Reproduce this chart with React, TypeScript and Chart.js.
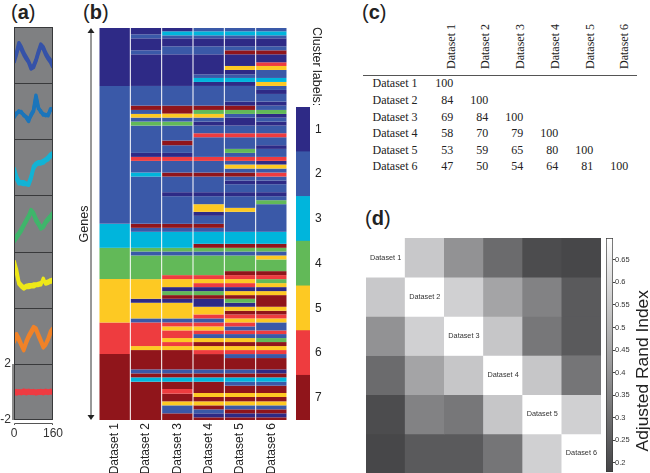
import React, { useEffect, useRef } from "react";
import { Chart, registerables } from "chart.js";
Chart.register(...registerables);
Chart.defaults.font.family = "'Liberation Sans', Arial, sans-serif";

// ---------- panel (a): cluster profiles ----------
const timePoints = [0, 10, 20, 30, 40, 50, 60, 70, 80, 90, 100, 110, 120, 130, 140, 150, 160];
const profileColors = ["#3552a8", "#1b75bb", "#12b3d5", "#3fb56b", "#eee818", "#f08228", "#ee3b42"];
const profile1 = [-0.3, 0.2, 0.9, 0.6, 0.2, -0.1, -0.4, -0.8, -0.7, -0.3, 0.3, 0.8, 0.6, 0.2, -0.1, -0.3, -0.6];
const profile1b = [-0.5, 0.05, 0.75, 0.4, 0.05, -0.25, -0.5, -0.95, -0.85, -0.4, 0.15, 0.65, 0.45, 0.05, -0.25, -0.5, -0.85];
const profile2 = [-0.3, -0.2, 0.05, -0.1, -0.2, -0.45, -0.7, -0.2, 0.1, 1.15, 0.3, -0.05, -0.15, -0.3, -0.2, 0.1, 0.25];
const profile2b = [-0.45, -0.1, -0.05, 0.0, -0.3, -0.35, -0.55, -0.3, 0.0, 1.0, 0.2, 0.05, -0.25, -0.2, -0.3, 0.2, 0.1];
const profile3 = [0, -0.6, -0.95, -1, -1, -1.1, -1.1, -0.6, 0.1, 0.3, 0.4, 0.4, 0.5, 0.6, 0.75, 0.95, 1.05];
const profile3b = [-0.3, -0.8, -1.15, -1.15, -1.2, -1.2, -1.25, -0.8, -0.1, 0.15, 0.25, 0.25, 0.3, 0.45, 0.55, 0.75, 0.9];
const profile4 = [-1.0, -0.8, -0.6, -0.3, 0, 0.3, 0.6, 1, 0.8, 0.4, 0.1, -0.2, -0.1, 0.2, 0.4, 0.6, 0.8];
const profile4b = [-1.25, -1.0, -0.75, -0.5, -0.15, 0.15, 0.45, 0.8, 0.65, 0.2, -0.05, -0.35, -0.25, 0.05, 0.25, 0.45, 0.6];
const profile5 = [1.4, 0.8, -0.1, -0.3, -0.45, -0.35, -0.3, -0.3, -0.25, -0.25, -0.2, -0.15, -0.05, -0.1, -0.05, 0.05, 0.1];
const profile5b = [1.1, 0.5, -0.25, -0.45, -0.6, -0.5, -0.5, -0.45, -0.45, -0.35, -0.35, -0.3, 0.15, -0.25, -0.2, -0.1, -0.1];
const profile6 = [-0.2, 0.2, -0.1, -0.5, -0.85, -0.3, 0.1, 0.4, 0.7, 0.6, 0.2, -0.2, -0.6, -0.5, -0.1, 0.4, 0.6];
const profile6b = [-0.45, 0.05, -0.3, -0.65, -1.0, -0.5, -0.1, 0.2, 0.5, 0.45, 0.0, -0.4, -0.8, -0.6, -0.25, 0.2, 0.35];
const profile7 = [0, 0.05, -0.05, 0.02, -0.03, 0.05, -0.02, 0.03, -0.05, 0.0, 0.04, -0.03, 0.03, -0.02, 0.04, 0.0, 0.02];
const profile7b = [0.08, -0.08, 0.04, -0.06, 0.08, -0.07, 0.07, -0.05, 0.05, -0.08, -0.04, 0.06, -0.06, 0.07, -0.05, 0.07, -0.06];
const profileSets = [
  [profile1, profile1b], [profile2, profile2b], [profile3, profile3b], [profile4, profile4b],
  [profile5, profile5b], [profile6, profile6b], [profile7, profile7b],
];

// ---------- panel (b): cluster membership, gene rank where each run ends ----------
const datasetNames = ["Dataset 1", "Dataset 2", "Dataset 3", "Dataset 4", "Dataset 5", "Dataset 6"];
const clusterNames = ["1", "2", "3", "4", "5", "6", "7"];
const clusterColors = ["#2e2a86", "#3a59a8", "#00b5dc", "#62b958", "#fdc923", "#ee3c3f", "#90151b"];
const d1Labels = [1, 2, 3, 4, 5, 6, 7];
const d1Ends = [174, 588, 660, 754, 884, 979, 1177];
const d2Labels = [1, 2, 1, 2, 1, 2, 7, 2, 5, 2, 4, 2, 1, 6, 2, 3, 2, 7, 2, 3, 4, 2, 4, 5, 1, 5, 2, 6, 5, 7, 2, 7, 3, 7];
const d2Ends = [19, 31, 67, 79, 174, 233, 246, 258, 269, 281, 293, 375, 387, 399, 434, 446, 588, 600, 612, 660, 671, 683, 754, 813, 825, 872, 884, 955, 967, 1025, 1037, 1049, 1062, 1177];
const d3Labels = [1, 3, 2, 1, 2, 1, 2, 7, 5, 2, 4, 2, 7, 2, 1, 6, 2, 7, 2, 1, 2, 7, 2, 3, 4, 2, 4, 6, 5, 1, 4, 7, 1, 5, 2, 6, 5, 6, 5, 6, 5, 7, 2, 7, 3, 7, 6, 7, 5, 2, 7];
const d3Ends = [10, 22, 31, 55, 79, 174, 233, 257, 269, 281, 293, 338, 352, 375, 387, 399, 434, 446, 493, 505, 588, 600, 612, 660, 671, 683, 742, 754, 778, 790, 802, 813, 825, 872, 884, 896, 908, 931, 943, 955, 967, 1025, 1037, 1049, 1062, 1084, 1098, 1121, 1133, 1157, 1177];
const d4Labels = [2, 3, 2, 1, 2, 1, 2, 3, 1, 2, 7, 4, 5, 2, 1, 2, 6, 2, 6, 2, 7, 2, 1, 2, 5, 1, 2, 7, 2, 3, 7, 4, 2, 4, 6, 5, 6, 1, 4, 7, 1, 5, 6, 2, 6, 5, 6, 2, 5, 7, 5, 6, 7, 2, 7, 3, 7, 5, 7, 5, 7, 2, 1, 7];
const d4Ends = [10, 22, 31, 55, 79, 139, 150, 162, 174, 233, 246, 258, 269, 281, 293, 316, 328, 387, 399, 434, 446, 493, 505, 529, 552, 564, 588, 600, 612, 648, 660, 671, 683, 742, 754, 766, 778, 790, 802, 813, 837, 860, 872, 884, 896, 908, 919, 931, 943, 955, 967, 979, 1025, 1037, 1049, 1062, 1096, 1108, 1121, 1133, 1145, 1157, 1169, 1177];
const d5Labels = [2, 3, 2, 1, 2, 7, 1, 5, 1, 2, 3, 1, 2, 1, 7, 4, 2, 1, 2, 6, 2, 4, 2, 6, 2, 5, 2, 7, 2, 1, 2, 1, 2, 5, 2, 3, 7, 4, 2, 4, 7, 6, 5, 6, 1, 5, 7, 4, 1, 5, 7, 6, 5, 6, 2, 6, 2, 5, 7, 5, 6, 2, 7, 2, 7, 3, 2, 7, 5, 7, 5, 2, 7, 1, 7];
const d5Ends = [10, 22, 31, 55, 67, 79, 114, 126, 139, 150, 162, 174, 221, 233, 246, 258, 269, 293, 316, 328, 363, 375, 387, 399, 410, 422, 434, 446, 458, 469, 493, 505, 540, 552, 612, 648, 660, 671, 683, 730, 742, 754, 766, 778, 790, 802, 813, 825, 837, 849, 860, 872, 884, 896, 908, 919, 931, 943, 955, 967, 979, 991, 1025, 1037, 1049, 1062, 1074, 1096, 1108, 1121, 1133, 1145, 1157, 1169, 1177];
const d6Labels = [2, 3, 2, 1, 2, 7, 1, 6, 5, 2, 3, 5, 2, 1, 2, 1, 2, 4, 1, 2, 1, 2, 6, 2, 1, 2, 6, 1, 5, 2, 6, 2, 1, 2, 1, 2, 4, 2, 3, 7, 4, 2, 5, 4, 7, 6, 4, 5, 1, 5, 7, 5, 7, 6, 5, 2, 6, 2, 4, 7, 5, 6, 2, 7, 1, 7, 3, 2, 7, 5, 7, 5, 2, 7, 1, 7];
const d6Ends = [10, 22, 31, 55, 67, 79, 103, 114, 126, 150, 162, 174, 186, 198, 221, 233, 246, 258, 269, 281, 293, 316, 328, 352, 363, 387, 399, 410, 422, 434, 446, 458, 469, 493, 505, 517, 529, 612, 648, 660, 671, 683, 695, 730, 742, 754, 766, 778, 790, 802, 837, 849, 860, 872, 884, 908, 919, 931, 943, 955, 967, 979, 991, 1025, 1037, 1049, 1062, 1074, 1096, 1108, 1121, 1133, 1145, 1157, 1169, 1177];
const membershipLabels = [d1Labels, d2Labels, d3Labels, d4Labels, d5Labels, d6Labels];
const membershipEnds = [d1Ends, d2Ends, d3Ends, d4Ends, d5Ends, d6Ends];
const legendValues = [1, 1, 1, 1, 1, 1, 1];

// ---------- panel (c): table ----------
const overlapRow1 = [100];
const overlapRow2 = [84, 100];
const overlapRow3 = [69, 84, 100];
const overlapRow4 = [58, 70, 79, 100];
const overlapRow5 = [53, 59, 65, 80, 100];
const overlapRow6 = [47, 50, 54, 64, 81, 100];
const overlapRows = [overlapRow1, overlapRow2, overlapRow3, overlapRow4, overlapRow5, overlapRow6];

// ---------- panel (d): adjusted Rand index ----------
const ari1 = [1, 0.547, 0.397, 0.288, 0.202, 0.188];
const ari2 = [0.547, 1, 0.569, 0.447, 0.352, 0.241];
const ari3 = [0.397, 0.569, 0.99, 0.539, 0.322, 0.241];
const ari4 = [0.288, 0.447, 0.539, 1, 0.539, 0.316];
const ari5 = [0.202, 0.352, 0.322, 0.539, 1, 0.567];
const ari6 = [0.188, 0.241, 0.241, 0.316, 0.567, 0.99];
const ariMatrix = [ari1, ari2, ari3, ari4, ari5, ari6];
const ariMin = 0.18;
const ariMax = 0.698;

const ariGray = (v: number) => {
  const t = Math.min(1, (v - ariMin) / (ariMax - ariMin));
  const g = Math.round(68 + t * 187);
  return `rgb(${g},${g},${g + (g < 250 ? 2 : 0)})`;
};

// fixes an axis' thickness so the plot area lands where it should
const fixFit = (size: number) => (s: any) => {
  if (s.isHorizontal()) s.height = size;
  else s.width = size;
  s.paddingLeft = s.paddingRight = s.paddingTop = s.paddingBottom = 0;
};

function ChartBox({ left, top, width, height, config }: any) {
  const ref = useRef<HTMLCanvasElement>(null);
  useEffect(() => {
    const chart = new Chart(ref.current as HTMLCanvasElement, config());
    return () => chart.destroy();
  }, []);
  return <canvas ref={ref} width={width} height={height} style={{ position: "absolute", left, top, width, height }} />;
}

const profileBox = {
  id: "profileBox",
  beforeDatasetsDraw(chart: any) {
    const { ctx, chartArea: a } = chart;
    ctx.save();
    ctx.fillStyle = "#7f8082";
    ctx.fillRect(a.left, a.top, a.width, a.height);
    ctx.restore();
  },
  afterDatasetsDraw(chart: any) {
    const { ctx, chartArea: a } = chart;
    ctx.save();
    ctx.strokeStyle = "#38393b";
    ctx.lineWidth = 1;
    ctx.strokeRect(a.left + 0.5, a.top + 0.5, a.width - 1, a.height - 1);
    ctx.restore();
  },
};

const bracket = {
  id: "bracket",
  afterDraw(chart: any) {
    const { ctx, chartArea: a } = chart;
    ctx.save();
    ctx.strokeStyle = "#555";
    ctx.lineWidth = 1;
    ctx.beginPath();
    ctx.moveTo(a.left + 0.5, a.bottom + 5);
    ctx.lineTo(a.left + 0.5, a.bottom + 3.5);
    ctx.lineTo(a.right - 0.5, a.bottom + 3.5);
    ctx.lineTo(a.right - 0.5, a.bottom + 5);
    ctx.stroke();
    ctx.lineWidth = 2;
    ctx.strokeStyle = "#8a8a8a";
    ctx.beginPath();
    ctx.moveTo(a.left - 1, a.top);
    ctx.lineTo(a.left - 1, a.bottom);
    ctx.stroke();
    ctx.restore();
  },
};

const profileConfig = (index: number, withAxes: boolean) => () => {
  const color = profileColors[index];
  const toPoints = (ys: number[]) => ys.map((y, i) => ({ x: timePoints[i], y }));
  return {
    type: "line",
    data: {
      datasets: profileSets[index].map((ys) => ({
        data: toPoints(ys),
        borderColor: color,
        borderWidth: index === 6 ? 5 : 3.4,
        borderJoinStyle: "round",
        pointRadius: 0,
        tension: 0,
      })),
    },
    options: {
      animation: false,
      responsive: false,
      layout: { padding: withAxes ? { top: 6, right: 17 } : 0 },
      plugins: { legend: { display: false }, tooltip: { enabled: false } },
      scales: {
        x: {
          type: "linear", min: 0, max: 160, display: withAxes,
          afterBuildTicks: (s: any) => { s.ticks = [{ value: 0 }, { value: 160 }]; },
          afterFit: withAxes ? fixFit(20) : undefined,
          grid: { display: false, drawTicks: false }, border: { display: false },
          ticks: { color: "#333", padding: 6, maxRotation: 0, autoSkip: false, font: { size: 12 } },
        },
        y: {
          min: -2, max: 2, display: withAxes,
          afterBuildTicks: (s: any) => { s.ticks = [{ value: -2 }, { value: 2 }]; },
          afterFit: withAxes ? fixFit(14) : undefined,
          grid: { display: false, drawTicks: false }, border: { display: false },
          ticks: { color: "#333", padding: 3, font: { size: 12 } },
        },
      },
    },
    plugins: withAxes ? [profileBox, bracket] : [profileBox],
  };
};

const geneArrow = {
  id: "geneArrow",
  afterDraw(chart: any) {
    const { ctx, chartArea: a } = chart;
    const x = a.left - 8;
    ctx.save();
    ctx.strokeStyle = "#333";
    ctx.fillStyle = "#222";
    ctx.lineWidth = 1;
    ctx.beginPath();
    ctx.moveTo(x, a.top + 3);
    ctx.lineTo(x, a.bottom - 3);
    ctx.stroke();
    [[a.top, 5], [a.bottom, -5]].forEach(([y, d]) => {
      ctx.beginPath();
      ctx.moveTo(x, y);
      ctx.lineTo(x - 3.5, y + d);
      ctx.lineTo(x + 3.5, y + d);
      ctx.closePath();
      ctx.fill();
    });
    ctx.restore();
  },
};

const membershipConfig = () => {
  const datasets: any[] = [];
  membershipEnds.forEach((ends, col) => {
    ends.forEach((end, i) => {
      const data: (number | null)[] = datasetNames.map(() => null);
      data[col] = end - (i === 0 ? 0 : ends[i - 1]);
      datasets.push({ data, backgroundColor: clusterColors[membershipLabels[col][i] - 1], stack: "genes" });
    });
  });
  return {
    type: "bar",
    data: { labels: datasetNames, datasets },
    options: {
      animation: false,
      responsive: false,
      layout: { padding: { top: 8, right: 8 } },
      plugins: { legend: { display: false }, tooltip: { enabled: false } },
      datasets: { bar: { categoryPercentage: 0.968, barPercentage: 1, borderWidth: 0 } },
      scales: {
        x: {
          stacked: true,
          afterFit: fixFit(53),
          grid: { display: false, drawTicks: false }, border: { display: false },
          ticks: { color: "#222", minRotation: 90, maxRotation: 90, padding: 3, autoSkip: false, font: { size: 12 } },
        },
        y: {
          stacked: true, reverse: true, min: 0, max: 1177,
          afterFit: fixFit(29),
          grid: { display: false, drawTicks: false }, border: { display: false },
          ticks: { display: false },
          title: { display: true, text: "Genes", color: "#222", font: { size: 12.5 }, padding: { top: 7, bottom: 0 } },
        },
      },
    },
    plugins: [geneArrow],
  };
};

const clusterLegendConfig = () => ({
  type: "bar",
  data: {
    labels: clusterNames,
    datasets: [{ data: legendValues, backgroundColor: clusterColors, borderWidth: 0 }],
  },
  options: {
    indexAxis: "y",
    animation: false,
    responsive: false,
    layout: { padding: { left: 6, top: 7 } },
    plugins: { legend: { display: false }, tooltip: { enabled: false } },
    datasets: { bar: { categoryPercentage: 1, barPercentage: 1 } },
    scales: {
      x: { min: 0, max: 1, display: false },
      y: {
        position: "right",
        afterFit: fixFit(25),
        grid: { display: false, drawTicks: false }, border: { display: false },
        ticks: { color: "#222", padding: 5, font: { size: 12 } },
      },
    },
  },
});

const diagonalLabels = {
  id: "diagonalLabels",
  afterDatasetsDraw(chart: any) {
    const { ctx, scales } = chart;
    ctx.save();
    ctx.font = "7.3px 'Liberation Sans'";
    ctx.fillStyle = "#333";
    ctx.textAlign = "center";
    ctx.textBaseline = "middle";
    datasetNames.forEach((name, i) => {
      ctx.fillText(name, scales.x.getPixelForValue(i), scales.y.getPixelForValue(i + 0.5));
    });
    ctx.restore();
  },
};

const ariConfig = () => ({
  type: "bar",
  data: {
    labels: datasetNames,
    datasets: ariMatrix.map((row) => ({
      data: row.map(() => 1),
      backgroundColor: row.map(ariGray),
      borderWidth: 0,
      stack: "rows",
    })),
  },
  options: {
    animation: false,
    responsive: false,
    plugins: { legend: { display: false }, tooltip: { enabled: false } },
    datasets: { bar: { categoryPercentage: 1, barPercentage: 1 } },
    scales: {
      x: { stacked: true, display: false },
      y: { stacked: true, reverse: true, min: 0, max: 6, display: false },
    },
  },
  plugins: [diagonalLabels],
});

const ariBarConfig = () => ({
  type: "bar",
  data: {
    labels: ["ARI"],
    datasets: [{
      data: [[ariMin, ariMax]],
      backgroundColor: (c: any) => {
        const a = c.chart.chartArea;
        if (!a) return "#888";
        const g = c.chart.ctx.createLinearGradient(0, a.bottom, 0, a.top);
        g.addColorStop(0, ariGray(ariMin));
        g.addColorStop(1, ariGray(ariMax));
        return g;
      },
      borderColor: "#3a3a3a",
      borderWidth: 1,
      borderSkipped: false,
    }],
  },
  options: {
    animation: false,
    responsive: false,
    layout: { padding: { left: 6, top: 8, bottom: 1 } },
    plugins: { legend: { display: false }, tooltip: { enabled: false } },
    datasets: { bar: { categoryPercentage: 1, barPercentage: 1 } },
    scales: {
      x: { display: false },
      y: {
        position: "right",
        min: ariMin, max: ariMax,
        afterFit: fixFit(18),
        grid: { drawOnChartArea: false, drawTicks: true, tickLength: 2, color: "#444" },
        border: { display: false },
        ticks: {
          stepSize: 0.05, includeBounds: false, color: "#333", padding: 0, autoSkip: false,
          font: { size: 7.5 },
          callback: (v: any) => Number(v).toFixed(2).replace(/0$/, ""),
        },
      },
    },
  },
});

const PANEL_TOPS = [27, 83, 139, 195, 252, 308];
const TABLE_RULE_Y = 75;
const TABLE_ROW_Y = [83.3, 100, 116.7, 133, 150, 166];
const TABLE_COL_RIGHT = [453.3, 488.3, 523.3, 558.3, 593.3, 628.3];
const TABLE_HEAD_X = [450.7, 485, 520, 555, 590, 624];

function PanelTag({ left, top, letter }: { left: number; top: number; letter: string }) {
  return (
    <div style={{ position: "absolute", left, top, font: "20px/24px 'Liberation Sans'", color: "#222", whiteSpace: "nowrap" }}>
      (<b>{letter}</b>)
    </div>
  );
}

export default function App() {
  const serif = "12px/14px 'Liberation Serif'";
  return (
    <div style={{ position: "fixed", left: 0, top: 0, width: 650, height: 473, background: "#fff", overflow: "hidden", filter: "blur(0.35px)" }}>
      <PanelTag left={11} top={0} letter="a" />
      <PanelTag left={83} top={0} letter="b" />
      <PanelTag left={362} top={0} letter="c" />
      <PanelTag left={365} top={206} letter="d" />

      {PANEL_TOPS.map((t, i) => (
        <ChartBox key={i} left={14} top={t} width={39} height={(i < 5 ? PANEL_TOPS[i + 1] : 364) - t + 1} config={profileConfig(i, false)} />
      ))}
      <ChartBox left={0} top={358} width={70} height={82} config={profileConfig(6, true)} />

      <ChartBox left={70} top={20} width={225} height={453} config={membershipConfig} />
      <ChartBox left={290} top={100} width={45} height={320} config={clusterLegendConfig} />
      <div style={{ position: "absolute", left: 309, top: 27, writingMode: "vertical-rl", font: "12.5px/16px 'Liberation Sans'", color: "#222", whiteSpace: "nowrap" }}>
        Cluster labels:
      </div>

      {datasetNames.map((name, i) => (
        <div key={name} style={{ position: "absolute", left: TABLE_HEAD_X[i] - 7, top: 24, height: 45, writingMode: "vertical-rl", transform: "rotate(180deg)", font: serif, color: "#222", whiteSpace: "nowrap" }}>
          {name}
        </div>
      ))}
      <div style={{ position: "absolute", left: 363, top: TABLE_RULE_Y, width: 274, height: 1, background: "#555" }} />
      {datasetNames.map((name, r) => (
        <React.Fragment key={name}>
          <div style={{ position: "absolute", left: 372.5, top: TABLE_ROW_Y[r] - 7, font: serif, color: "#222", whiteSpace: "nowrap" }}>{name}</div>
          {overlapRows[r].map((v, c) => (
            <div key={c} style={{ position: "absolute", left: TABLE_COL_RIGHT[c] - 40, width: 40, top: TABLE_ROW_Y[r] - 7, textAlign: "right", font: serif, color: "#222" }}>{v}</div>
          ))}
        </React.Fragment>
      ))}

      <ChartBox left={366} top={238} width={235} height={235} config={ariConfig} />
      <ChartBox left={600} top={230} width={31} height={243} config={ariBarConfig} />
      <div style={{ position: "absolute", left: 631, top: 290, writingMode: "vertical-rl", transform: "rotate(180deg)", font: "17.4px/22px 'Liberation Sans'", color: "#222", whiteSpace: "nowrap" }}>
        Adjusted Rand Index
      </div>
    </div>
  );
}
